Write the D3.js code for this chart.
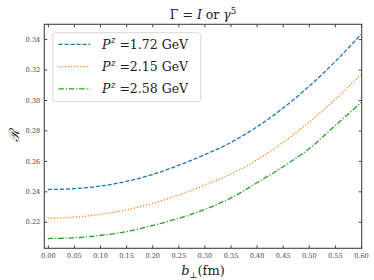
<!DOCTYPE html>
<html>
<head>
<meta charset="utf-8">
<script src="https://d3js.org/d3.v7.min.js"></script>
<style>
  body { margin: 0; background: #fff; }
  svg { display: block; }
  .tick text { font-family: 'DejaVu Serif', serif; font-size: 6.6px; fill: #444; }
  .tick line { stroke: #444; }
  .domain { display: none; }
  .lbl { font-family: 'DejaVu Serif', serif; fill: #222; }
</style>
</head>
<body>
<svg id="chart"></svg>
<script>
// values, b_perp in fm
const bPerp = [0.00, 0.05, 0.10, 0.15, 0.20, 0.25, 0.30, 0.35, 0.40, 0.45, 0.50, 0.55, 0.60];
const r172 = [0.2412, 0.2418, 0.2434, 0.2465, 0.2510, 0.2570, 0.2640, 0.2720, 0.2822, 0.2945, 0.3088, 0.3250, 0.3430];
const r215 = [0.2224, 0.2230, 0.2249, 0.2278, 0.2320, 0.2375, 0.2440, 0.2512, 0.2605, 0.2720, 0.2852, 0.3003, 0.3166];
const r258 = [0.2090, 0.2095, 0.2110, 0.2135, 0.2175, 0.2222, 0.2280, 0.2355, 0.2455, 0.2560, 0.2678, 0.2830, 0.2982];
const seriesNames = ["1.72", "2.15", "2.58"];
const xTicks = [0.00, 0.05, 0.10, 0.15, 0.20, 0.25, 0.30, 0.35, 0.40, 0.45, 0.50, 0.55, 0.60];
const yTicks = [0.22, 0.24, 0.26, 0.28, 0.30, 0.32, 0.34];

const W = 374, H = 280;
const pLeft = 44.3, pRight = 361.7, pTop = 24.3, pBottom = 248.3;

const svg = d3.select("#chart").attr("width", W).attr("height", H);

const x = d3.scaleLinear().domain([-0.0068, 0.6014]).range([pLeft, pRight]);
const y = d3.scaleLinear().domain([0.2026, 0.3497]).range([pBottom, pTop]);

const styles = [
  { color: "#1f77b4", dash: "4.2,1.8" },
  { color: "#ff7f0e", dash: "1.2,1.9" },
  { color: "#2ca02c", dash: "5.5,1.8,1.2,1.8" }
];
const allSeries = [r172, r215, r258];

// axes, ticks pointing inward on all four sides
svg.append("g").attr("transform", `translate(0,${pBottom})`)
  .call(d3.axisBottom(x).tickValues(xTicks).tickFormat(d3.format(".2f")).tickSizeInner(-3).tickSizeOuter(0).tickPadding(5));
svg.append("g").attr("transform", `translate(0,${pTop})`)
  .call(d3.axisTop(x).tickValues(xTicks).tickFormat("").tickSizeInner(-3).tickSizeOuter(0));
svg.append("g").attr("transform", `translate(${pLeft},0)`)
  .call(d3.axisLeft(y).tickValues(yTicks).tickFormat(d3.format(".2f")).tickSizeInner(-3).tickSizeOuter(0).tickPadding(4));
svg.append("g").attr("transform", `translate(${pRight},0)`)
  .call(d3.axisRight(y).tickValues(yTicks).tickFormat("").tickSizeInner(-3).tickSizeOuter(0));

const clip = svg.append("defs").append("clipPath").attr("id", "plotclip");
clip.append("rect").attr("x", pLeft).attr("y", pTop).attr("width", pRight - pLeft).attr("height", pBottom - pTop);

const line = d3.line()
  .x((d, i) => x(bPerp[i]))
  .y(d => y(d))
  .curve(d3.curveMonotoneX);

const lines = svg.append("g").attr("clip-path", "url(#plotclip)");
allSeries.forEach((s, k) => {
  lines.append("path")
    .attr("d", line(s))
    .attr("fill", "none")
    .attr("stroke", styles[k].color)
    .attr("stroke-width", 1.3)
    .attr("stroke-dasharray", styles[k].dash);
});

// frame
svg.append("rect")
  .attr("x", pLeft).attr("y", pTop)
  .attr("width", pRight - pLeft).attr("height", pBottom - pTop)
  .attr("fill", "none").attr("stroke", "#444").attr("stroke-width", 1.1);

// legend
const lg = svg.append("g");
lg.append("rect")
  .attr("x", 52.7).attr("y", 32.7).attr("width", 148).attr("height", 69)
  .attr("rx", 3).attr("fill", "#fff").attr("fill-opacity", 0.85)
  .attr("stroke", "#d4d4d4").attr("stroke-width", 0.9);
seriesNames.forEach((name, k) => {
  const ry = 44.3 + k * 22.3;
  lg.append("line")
    .attr("x1", 58.5).attr("x2", 90).attr("y1", ry).attr("y2", ry)
    .attr("stroke", styles[k].color).attr("stroke-width", 1.3)
    .attr("stroke-dasharray", styles[k].dash);
  const t = lg.append("text").attr("class", "lbl")
    .attr("x", 102).attr("y", ry + 4.5).attr("font-size", 12.5);
  t.append("tspan").attr("font-style", "italic").text("P");
  t.append("tspan").attr("font-style", "italic").attr("font-size", 8.5).attr("dy", -5.5).attr("dx", 0.5).text("z");
  t.append("tspan").attr("dy", 5.5).text(" =" + name + " GeV");
});

// title
const title = svg.append("text").attr("class", "lbl")
  .attr("x", (pLeft + pRight) / 2).attr("y", 19).attr("text-anchor", "middle").attr("font-size", 12.5);
title.append("tspan").text("Γ = ");
title.append("tspan").attr("font-style", "italic").text("I");
title.append("tspan").text(" or ");
title.append("tspan").attr("font-style", "italic").text("γ");
title.append("tspan").attr("font-size", 8.5).attr("dy", -5).text("5");

// axis labels
const xl = svg.append("text").attr("class", "lbl")
  .attr("x", (pLeft + pRight) / 2).attr("y", 275).attr("text-anchor", "middle").attr("font-size", 13);
xl.append("tspan").attr("font-style", "italic").text("b");
xl.append("tspan").attr("font-size", 8.5).attr("dy", 3).text("⊥");
xl.append("tspan").attr("dy", -3).text("(fm)");

svg.append("text").attr("class", "lbl")
  .attr("transform", `translate(19,${(pTop + pBottom) / 2}) rotate(-90)`)
  .attr("text-anchor", "middle").attr("font-size", 14)
  .attr("font-style", "italic")
  .text("ℛ");
</script>
</body>
</html>
